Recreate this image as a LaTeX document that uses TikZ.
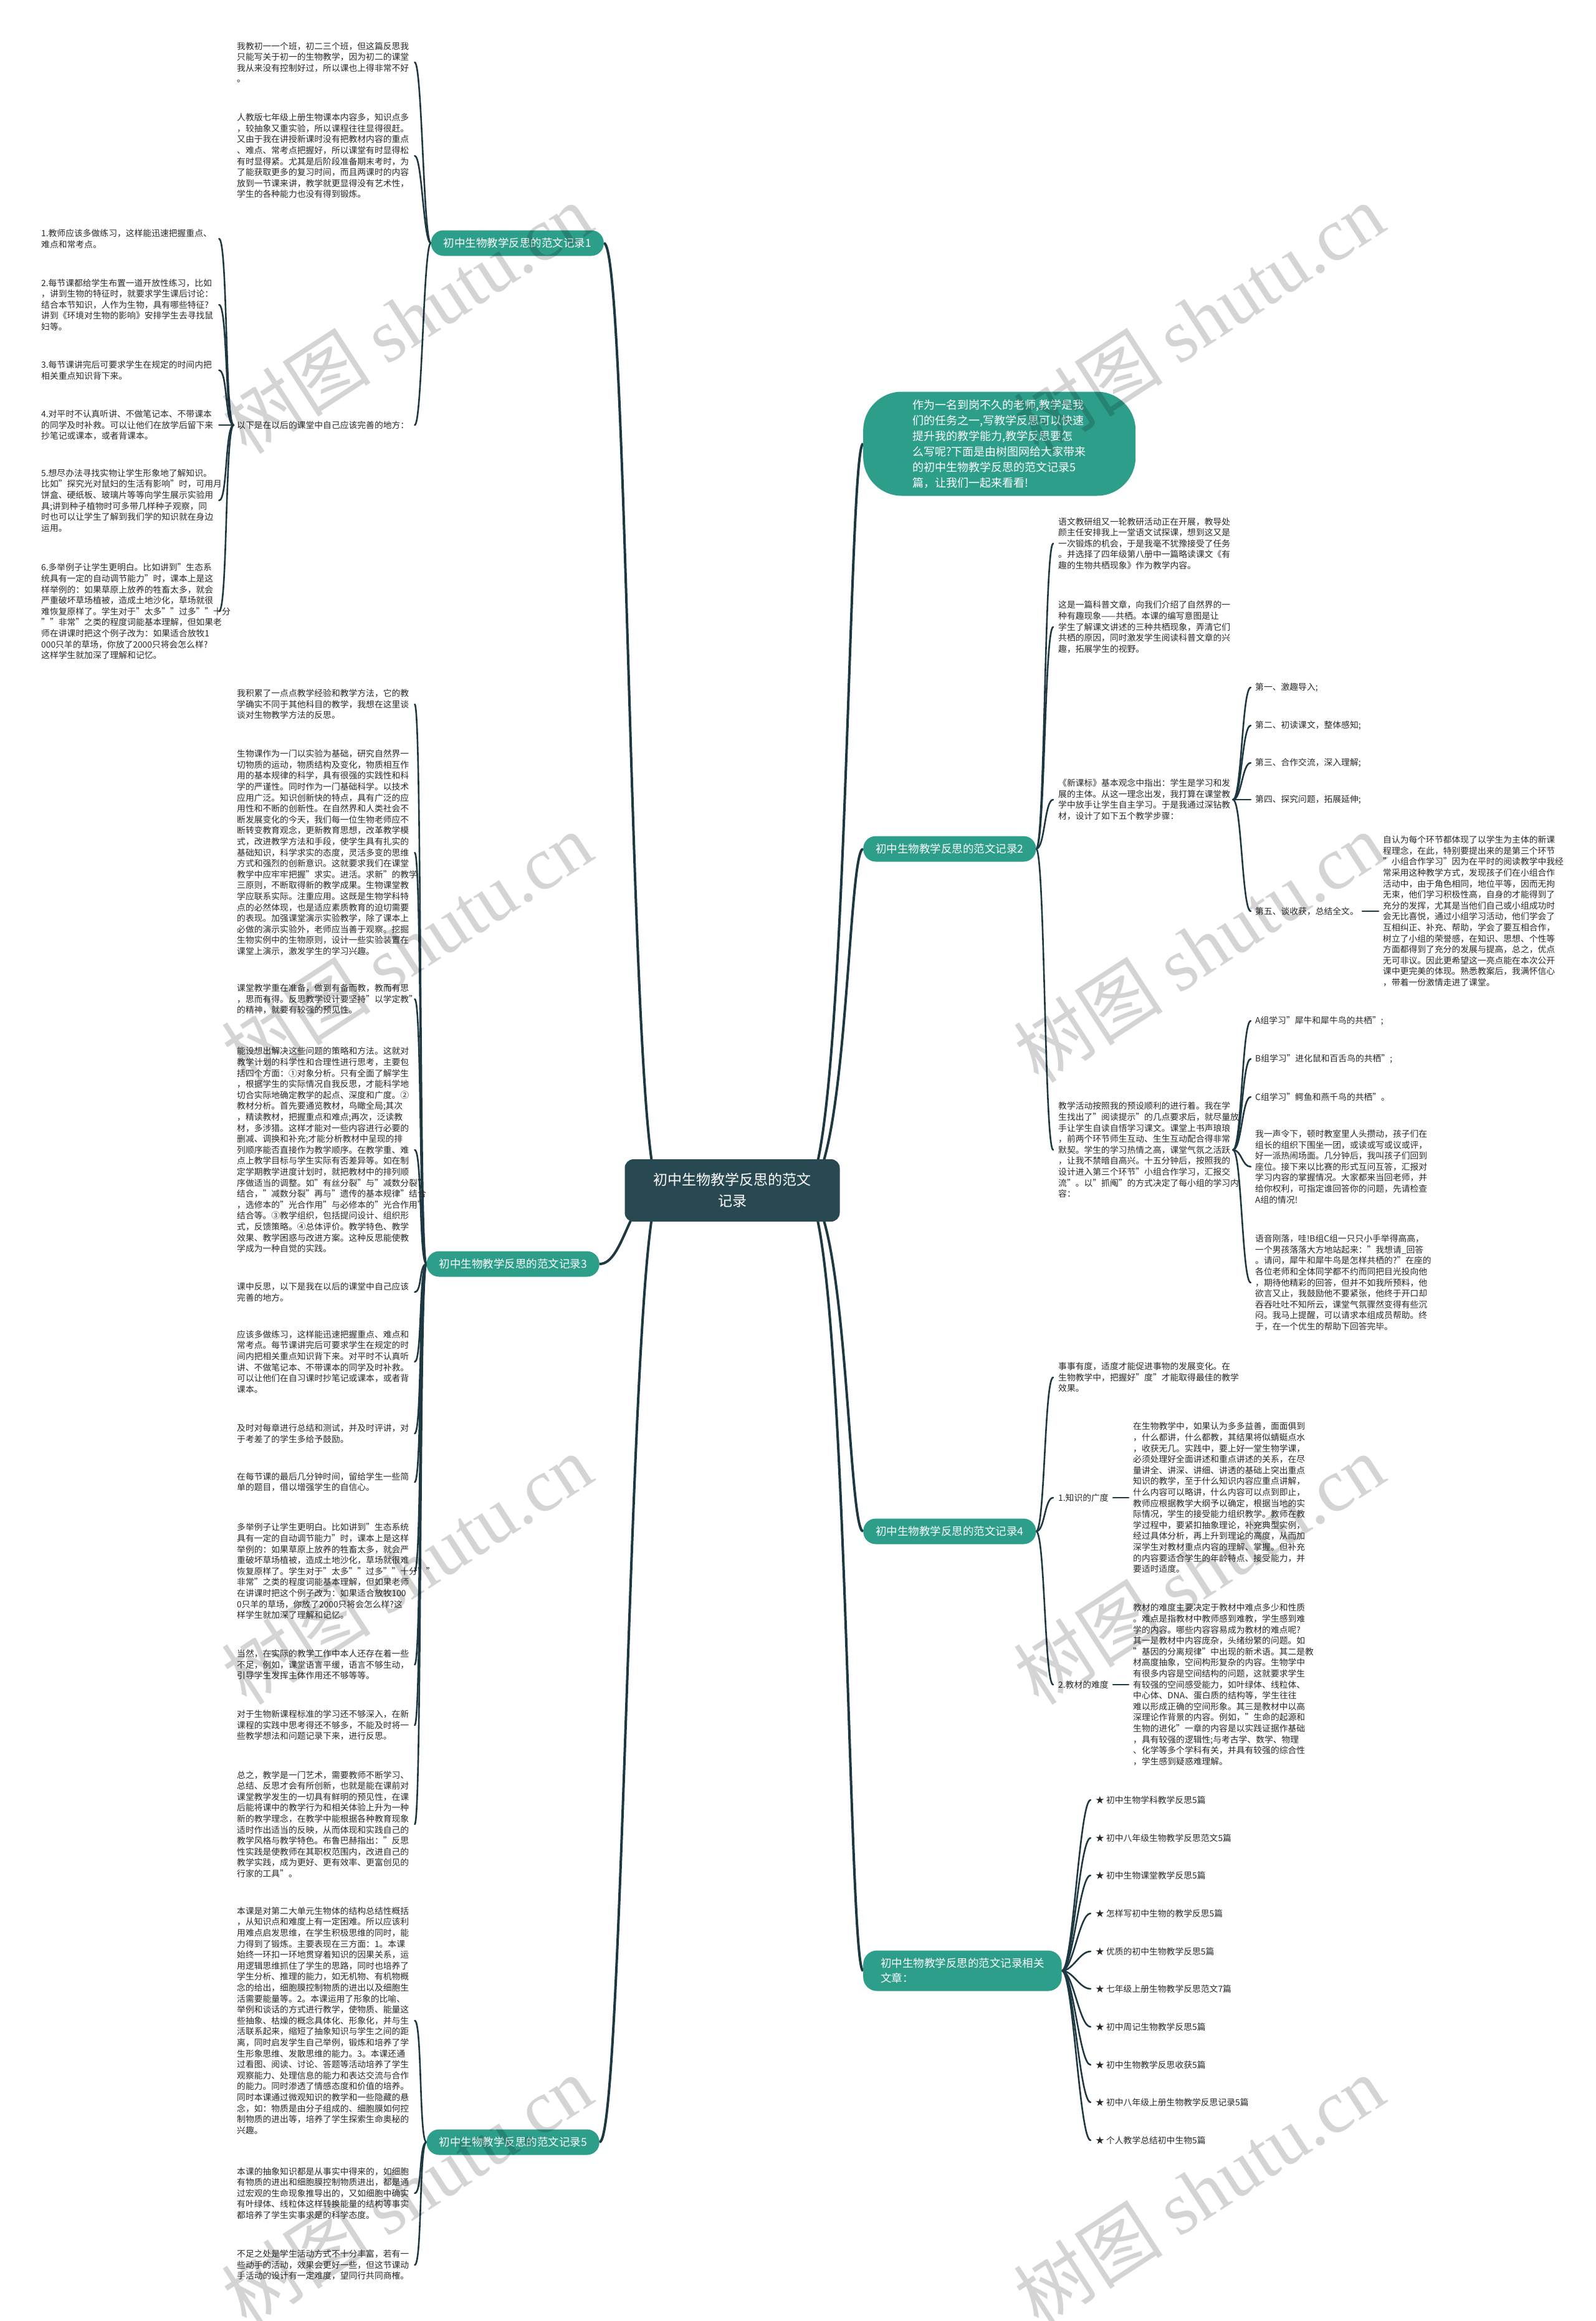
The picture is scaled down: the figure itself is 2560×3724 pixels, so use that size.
\documentclass[tikz,border=0pt]{standalone}
\usepackage{fontspec}
\setmainfont{Noto Sans CJK SC}
\newfontfamily\wmfont{Liberation Serif}
\usetikzlibrary{calc}
\definecolor{brTeal}{RGB}{44,158,138}
\definecolor{rootC}{RGB}{40,72,82}
\definecolor{lineC}{RGB}{30,56,66}
\definecolor{txtC}{RGB}{40,40,40}
\pgfdeclarelayer{back}
\pgfdeclarelayer{links}
\pgfsetlayers{back,links,main}
\tikzset{
  leaf/.style={anchor=west, inner sep=0pt, align=left, text width=276pt, text=txtC, font=\fontsize{13.8}{17.6}\selectfont},
  leafs/.style={anchor=west, inner sep=0pt, align=left, text=txtC, font=\fontsize{13.8}{17.6}\selectfont},
  branch/.style={fill=brTeal, text=white, rounded corners=20pt, inner xsep=20pt, inner ysep=0pt, minimum height=41pt, font=\fontsize{17.5}{24}\selectfont},
  rootbox/.style={fill=rootC, text=white, rounded corners=14pt, minimum width=345pt, minimum height=100pt, align=center, font=\fontsize{23}{34}\selectfont},
  rootline/.style={draw=lineC, line width=4pt},
  brline/.style={draw=lineC, line width=2.6pt, line cap=round},
  wm/.style={text=black, text opacity=0.17, rotate=33, font=\fontsize{120}{120}\selectfont},
}
\newcommand\mmLlink[2]{\draw[brline] (#1.west) .. controls +(-12,0) and +(12,0) .. ($(#2.east)+(9,0)$);}
\newcommand\mmRlink[2]{\draw[brline] (#1.east) .. controls +(14,0) and +(-14,0) .. ($(#2.west)+(-8,0)$);}
\newcommand\mmSubR[2]{\draw[brline] ($(#1.east)+(4,0)$) .. controls +(14,0) and +(-14,0) .. ($(#2.west)+(-7,0)$);}
\newcommand\mmSubL[2]{\draw[brline] ($(#1.west)+(-5,0)$) .. controls +(-14,0) and +(14,0) .. ($(#2.east)+(9,0)$);}
\begin{document}
\begin{tikzpicture}[x=1pt,y=-1pt]
\begin{pgfonlayer}{back}
\fill[white] (0,0) rectangle (2560,3724);
\end{pgfonlayer}
\useasboundingbox (0,0) rectangle (2560,3724);

% root
\node[rootbox] (root) at (1175,1910) {初中生物教学反思的范文\\记录};

% branches
\node[branch, anchor=east] (R1) at (969,390) {初中生物教学反思的范文记录1};
\node[branch, anchor=east] (R3) at (962,2028) {初中生物教学反思的范文记录3};
\node[branch, anchor=east] (R5) at (962,3437) {初中生物教学反思的范文记录5};
\node[fill=brTeal, text=white, rounded corners=62pt, minimum width=437pt, minimum height=167pt, align=left, anchor=west, inner sep=0pt, font=\fontsize{18}{25}\selectfont] (intro) at (1385,712) {作为一名到岗不久的老师,教学是我\\们的任务之一,写教学反思可以快速\\提升我的教学能力,教学反思要怎\\么写呢?下面是由树图网给大家带来\\的初中生物教学反思的范文记录5\\篇，让我们一起来看看!};
\node[branch, anchor=west] (R2) at (1385,1362) {初中生物教学反思的范文记录2};
\node[branch, anchor=west] (R4) at (1385,2457) {初中生物教学反思的范文记录4};
\node[branch, anchor=west, align=left, inner xsep=28pt, minimum height=65pt, rounded corners=22pt] (R6) at (1385,3162) {初中生物教学反思的范文记录相关\\文章：};

% record 1
\node[leaf] (L1a) at (380,100) {我教初一一个班，初二三个班，但这篇反思我\\只能写关于初一的生物教学，因为初二的课堂\\我从来没有控制好过，所以课也上得非常不好\\。};
\node[leaf] (L1b) at (380,250) {人教版七年级上册生物课本内容多，知识点多\\，较抽象又重实验，所以课程往往显得很赶。\\又由于我在讲授新课时没有把教材内容的重点\\、难点、常考点把握好，所以课堂有时显得松\\有时显得紧。尤其是后阶段准备期末考时，为\\了能获取更多的复习时间，而且两课时的内容\\放到一节课来讲，教学就更显得没有艺术性，\\学生的各种能力也没有得到锻炼。};
\node[leaf] (L1c) at (380,682) {以下是在以后的课堂中自己应该完善的地方：};
\node[leaf] (P1) at (66,383) {1.教师应该多做练习，这样能迅速把握重点、\\难点和常考点。};
\node[leaf] (P2) at (66,489) {2.每节课都给学生布置一道开放性练习，比如\\，讲到生物的特征时，就要求学生课后讨论：\\结合本节知识，人作为生物，具有哪些特征?\\讲到《环境对生物的影响》安排学生去寻找鼠\\妇等。};
\node[leaf] (P3) at (66,594) {3.每节课讲完后可要求学生在规定的时间内把\\相关重点知识背下来。};
\node[leaf] (P4) at (66,682) {4.对平时不认真听讲、不做笔记本、不带课本\\的同学及时补救。可以让他们在放学后留下来\\抄笔记或课本，或者背课本。};
\node[leaf] (P5) at (66,803) {5.想尽办法寻找实物让学生形象地了解知识。\\比如"探究光对鼠妇的生活有影响"时，可用月\\饼盒、硬纸板、玻璃片等等向学生展示实验用\\具;讲到种子植物时可多带几样种子观察，同\\时也可以让学生了解到我们学的知识就在身边\\运用。};
\node[leaf] (P6) at (66,981) {6.多举例子让学生更明白。比如讲到"生态系\\统具有一定的自动调节能力"时，课本上是这\\样举例的：如果草原上放养的牲畜太多，就会\\严重破坏草场植被，造成土地沙化，草场就很\\难恢复原样了。学生对于"太多""过多""十分\\""非常"之类的程度词能基本理解，但如果老\\师在讲课时把这个例子改为：如果适合放牧1\\000只羊的草场，你放了2000只将会怎么样?\\这样学生就加深了理解和记忆。};

% record 3
\node[leaf] (Q1) at (380,1130) {我积累了一点点教学经验和教学方法，它的教\\学确实不同于其他科目的教学，我想在这里谈\\谈对生物教学方法的反思。};
\node[leaf] (Q2) at (380,1368) {生物课作为一门以实验为基础，研究自然界一\\切物质的运动，物质结构及变化，物质相互作\\用的基本规律的科学，具有很强的实践性和科\\学的严谨性。同时作为一门基础科学。以技术\\应用广泛。知识创新快的特点，具有广泛的应\\用性和不断的创新性。在自然界和人类社会不\\断发展变化的今天，我们每一位生物老师应不\\断转变教育观念，更新教育思想，改革教学模\\式，改进教学方法和手段，使学生具有扎实的\\基础知识，科学求实的态度，灵活多变的思维\\方式和强烈的创新意识。这就要求我们在课堂\\教学中应牢牢把握"求实。进活。求新"的教学\\三原则，不断取得新的教学成果。生物课堂教\\学应联系实际。注重应用。这既是生物学科特\\点的必然体现，也是适应素质教育的迫切需要\\的表现。加强课堂演示实验教学，除了课本上\\必做的演示实验外，老师应当善于观察。挖掘\\生物实例中的生物原则，设计一些实验装置在\\课堂上演示，激发学生的学习兴趣。};
\node[leaf] (Q3) at (380,1603) {课堂教学重在准备，做到有备而教，教而有思\\，思而有得。反思教学设计要坚持"以学定教"\\的精神，就要有较强的预见性。};
\node[leaf] (Q4) at (380,1845) {能设想出解决这些问题的策略和方法。这就对\\教学计划的科学性和合理性进行思考，主要包\\括四个方面：①对象分析。只有全面了解学生\\，根据学生的实际情况自我反思，才能科学地\\切合实际地确定教学的起点、深度和广度。②\\教材分析。首先要通览教材，鸟瞰全局;其次\\，精读教材，把握重点和难点;再次，泛读教\\材，多涉猎。这样才能对一些内容进行必要的\\删减、调换和补充;才能分析教材中呈现的排\\列顺序能否直接作为教学顺序。在教学重、难\\点上教学目标与学生实际有否差异等。如在制\\定学期教学进度计划时，就把教材中的排列顺\\序做适当的调整。如"有丝分裂"与"减数分裂"\\结合，"减数分裂"再与"遗传的基本规律"结合\\，选修本的"光合作用"与必修本的"光合作用"\\结合等。③教学组织，包括提问设计、组织形\\式，反馈策略。④总体评价。教学特色、教学\\效果、教学困惑与改进方案。这种反思能使教\\学成为一种自觉的实践。};
\node[leaf] (Q5) at (380,2073) {课中反思，以下是我在以后的课堂中自己应该\\完善的地方。};
\node[leaf] (Q6) at (380,2185) {应该多做练习，这样能迅速把握重点、难点和\\常考点。每节课讲完后可要求学生在规定的时\\间内把相关重点知识背下来。对平时不认真听\\讲、不做笔记本、不带课本的同学及时补救。\\可以让他们在自习课时抄笔记或课本，或者背\\课本。};
\node[leaf] (Q7) at (380,2300) {及时对每章进行总结和测试，并及时评讲，对\\于考差了的学生多给予鼓励。};
\node[leaf] (Q8) at (380,2378) {在每节课的最后几分钟时间，留给学生一些简\\单的题目，借以增强学生的自信心。};
\node[leaf] (Q9) at (380,2521) {多举例子让学生更明白。比如讲到"生态系统\\具有一定的自动调节能力"时，课本上是这样\\举例的：如果草原上放养的牲畜太多，就会严\\重破坏草场植被，造成土地沙化，草场就很难\\恢复原样了。学生对于"太多""过多""十分""\\非常"之类的程度词能基本理解，但如果老师\\在讲课时把这个例子改为：如果适合放牧100\\0只羊的草场，你放了2000只将会怎么样?这\\样学生就加深了理解和记忆。};
\node[leaf] (Q10) at (380,2671) {当然，在实际的教学工作中本人还存在着一些\\不足，例如，课堂语言平缓，语言不够生动，\\引导学生发挥主体作用还不够等等。};
\node[leaf] (Q11) at (380,2768) {对于生物新课程标准的学习还不够深入，在新\\课程的实践中思考得还不够多，不能及时将一\\些教学想法和问题记录下来，进行反思。};
\node[leaf] (Q12) at (380,2927) {总之，教学是一门艺术，需要教师不断学习、\\总结、反思才会有所创新，也就是能在课前对\\课堂教学发生的一切具有鲜明的预见性，在课\\后能将课中的教学行为和相关体验上升为一种\\新的教学理念，在教学中能根据各种教育现象\\适时作出适当的反映，从而体现和实践自己的\\教学风格与教学特色。布鲁巴赫指出："反思\\性实践是使教师在其职权范围内，改进自己的\\教学实践，成为更好、更有效率、更富创见的\\行家的工具"。};

% record 5
\node[leaf] (F1) at (380,3242) {本课是对第二大单元生物体的结构总结性概括\\，从知识点和难度上有一定困难。所以应该利\\用难点启发思维，在学生积极思维的同时，能\\力得到了锻炼。主要表现在三方面：1。本课\\始终一环扣一环地贯穿着知识的因果关系，运\\用逻辑思维抓住了学生的思路，同时也培养了\\学生分析、推理的能力，如无机物、有机物概\\念的给出，细胞膜控制物质的进出以及细胞生\\活需要能量等。2。本课运用了形象的比喻、\\举例和谈话的方式进行教学，使物质、能量这\\些抽象、枯燥的概念具体化、形象化，并与生\\活联系起来，缩短了抽象知识与学生之间的距\\离，同时启发学生自己举例，锻炼和培养了学\\生形象思维、发散思维的能力。3。本课还通\\过看图、阅读、讨论、答题等活动培养了学生\\观察能力、处理信息的能力和表达交流与合作\\的能力。同时渗透了情感态度和价值的培养。\\同时本课通过微观知识的教学和一些隐藏的悬\\念，如：物质是由分子组成的、细胞膜如何控\\制物质的进出等，培养了学生探索生命奥秘的\\兴趣。};
\node[leaf] (F2) at (380,3519) {本课的抽象知识都是从事实中得来的，如细胞\\有物质的进出和细胞膜控制物质进出，都是通\\过宏观的生命现象推导出的，又如细胞中确实\\有叶绿体、线粒体这样转换能量的结构等事实\\都培养了学生实事求是的科学态度。};
\node[leaf] (F3) at (380,3634) {不足之处是学生活动方式不十分丰富，若有一\\些动手的活动，效果会更好一些，但这节课动\\手活动的设计有一定难度，望同行共同商榷。};

% record 2
\node[leaf] (Ra) at (1698,872) {语文教研组又一轮教研活动正在开展，教导处\\颜主任安排我上一堂语文试探课，想到这又是\\一次锻炼的机会，于是我毫不犹豫接受了任务\\。并选择了四年级第八册中一篇略读课文《有\\趣的生物共栖现象》作为教学内容。};
\node[leaf] (Rb) at (1698,1006) {这是一篇科普文章，向我们介绍了自然界的一\\种有趣现象——共栖。本课的编写意图是让\\学生了解课文讲述的三种共栖现象，弄清它们\\共栖的原因，同时激发学生阅读科普文章的兴\\趣，拓展学生的视野。};
\node[leaf] (Rc) at (1698,1283) {《新课标》基本观念中指出：学生是学习和发\\展的主体。从这一理念出发，我打算在课堂教\\学中放手让学生自主学习。于是我通过深钻教\\材，设计了如下五个教学步骤：};
\node[leafs] (T1) at (2014,1103) {第一、激趣导入;};
\node[leafs] (T2) at (2014,1164) {第二、初读课文，整体感知;};
\node[leafs] (T3) at (2014,1224) {第三、合作交流，深入理解;};
\node[leafs] (T4) at (2014,1283) {第四、探究问题，拓展延伸;};
\node[leafs] (T5) at (2014,1462) {第五、谈收获，总结全文。};
\node[leaf] (T5c) at (2219,1462) {自认为每个环节都体现了以学生为主体的新课\\程理念，在此，特别要提出来的是第三个环节\\"小组合作学习"因为在平时的阅读教学中我经\\常采用这种教学方式，发现孩子们在小组合作\\活动中，由于角色相同，地位平等，因而无拘\\无束，他们学习积极性高，自身的才能得到了\\充分的发挥，尤其是当他们自己或小组成功时\\会无比喜悦，通过小组学习活动，他们学会了\\互相纠正、补充、帮助，学会了要互相合作，\\树立了小组的荣誉感，在知识、思想、个性等\\方面都得到了充分的发展与提高，总之，优点\\无可非议。因此更希望这一亮点能在本次公开\\课中更完美的体现。熟悉教案后，我满怀信心\\，带着一份激情走进了课堂。};
\node[leaf] (Rd) at (1698,1845) {教学活动按照我的预设顺利的进行着。我在学\\生找出了"阅读提示"的几点要求后，就尽量放\\手让学生自读自悟学习课文。课堂上书声琅琅\\，前两个环节师生互动、生生互动配合得非常\\默契。学生的学习热情之高，课堂气氛之活跃\\，让我不禁暗自高兴。十五分钟后，按照我的\\设计进入第三个环节"小组合作学习，汇报交\\流"。以"抓阄"的方式决定了每小组的学习内\\容：};
\node[leafs] (U1) at (2014,1638) {A组学习"犀牛和犀牛鸟的共栖";};
\node[leafs] (U2) at (2014,1699) {B组学习"进化鼠和百舌鸟的共栖";};
\node[leafs] (U3) at (2014,1760) {C组学习"鳄鱼和燕千鸟的共栖"。};
\node[leaf] (U4) at (2014,1872) {我一声令下，顿时教室里人头攒动，孩子们在\\组长的组织下围坐一团，或读或写或议或评，\\好一派热闹场面。几分钟后，我叫孩子们回到\\座位。接下来以比赛的形式互问互答，汇报对\\学习内容的掌握情况。大家都来当回老师，并\\给你权利，可指定谁回答你的问题，先请检查\\A组的情况!};
\node[leaf] (U5) at (2014,2058) {语音刚落，哇!B组C组一只只小手举得高高，\\一个男孩落落大方地站起来："我想请\_回答\\。请问，犀牛和犀牛鸟是怎样共栖的?"在座的\\各位老师和全体同学都不约而同把目光投向他\\，期待他精彩的回答，但并不如我所预料，他\\欲言又止，我鼓励他不要紧张，他终于开口却\\吞吞吐吐不知所云，课堂气氛骤然变得有些沉\\闷。我马上提醒，可以请求本组成员帮助。终\\于，在一个优生的帮助下回答完毕。};

% record 4
\node[leaf] (V1) at (1698,2210) {事事有度，适度才能促进事物的发展变化。在\\生物教学中，把握好"度"才能取得最佳的教学\\效果。};
\node[leafs] (V2) at (1698,2403) {1.知识的广度};
\node[leaf] (V2c) at (1818,2403) {在生物教学中，如果认为多多益善，面面俱到\\，什么都讲，什么都教，其结果将似蜻蜓点水\\，收获无几。实践中，要上好一堂生物学课，\\必须处理好全面讲述和重点讲述的关系，在尽\\量讲全、讲深、讲细、讲透的基础上突出重点\\知识的教学，至于什么知识内容应重点讲解，\\什么内容可以略讲，什么内容可以点到即止，\\教师应根据教学大纲予以确定，根据当地的实\\际情况，学生的接受能力组织教学。教师在教\\学过程中，要紧扣抽象理论，补充典型实例，\\经过具体分析，再上升到理论的高度，从而加\\深学生对教材重点内容的理解、掌握。但补充\\的内容要适合学生的年龄特点、接受能力，并\\要适时适度。};
\node[leafs] (V3) at (1698,2703) {2.教材的难度};
\node[leaf] (V3c) at (1818,2703) {教材的难度主要决定于教材中难点多少和性质\\。难点是指教材中教师感到难教，学生感到难\\学的内容。哪些内容容易成为教材的难点呢?\\其一是教材中内容庞杂，头绪纷繁的问题。如\\"基因的分离规律"中出现的新术语。其二是教\\材高度抽象，空间构形复杂的内容。生物学中\\有很多内容是空间结构的问题，这就要求学生\\有较强的空间感受能力，如叶绿体、线粒体、\\中心体、DNA、蛋白质的结构等，学生往往\\难以形成正确的空间形象。其三是教材中以高\\深理论作背景的内容。例如，"生命的起源和\\生物的进化"一章的内容是以实践证据作基础\\，具有较强的逻辑性;与考古学、数学、物理\\、化学等多个学科有关，并具有较强的综合性\\，学生感到疑惑难理解。};

% related
\node[leafs] (W1) at (1758,2888) {★ 初中生物学科教学反思5篇};
\node[leafs] (W2) at (1758,2949) {★ 初中八年级生物教学反思范文5篇};
\node[leafs] (W3) at (1758,3009) {★ 初中生物课堂教学反思5篇};
\node[leafs] (W4) at (1758,3070) {★ 怎样写初中生物的教学反思5篇};
\node[leafs] (W5) at (1758,3131) {★ 优质的初中生物教学反思5篇};
\node[leafs] (W6) at (1758,3191) {★ 七年级上册生物教学反思范文7篇};
\node[leafs] (W7) at (1758,3252) {★ 初中周记生物教学反思5篇};
\node[leafs] (W8) at (1758,3313) {★ 初中生物教学反思收获5篇};
\node[leafs] (W9) at (1758,3373) {★ 初中八年级上册生物教学反思记录5篇};
\node[leafs] (W10) at (1758,3434) {★ 个人教学总结初中生物5篇};

\begin{pgfonlayer}{links}
% root links
\foreach \b in {R1,R3,R5}
  \draw[rootline] ($(root.center)+(-115,0)$) .. controls +(-50,0) and +(40,0) .. (\b.east);
\foreach \b in {intro,R2,R4,R6}
  \draw[rootline] ($(root.center)+(115,0)$) .. controls +(70,0) and +(-25,0) .. (\b.west);
% record 1
\foreach \l in {L1a,L1b,L1c} {\mmLlink{R1}{\l}}
\foreach \l in {P1,P2,P3,P4,P5,P6} {\mmSubL{L1c}{\l}}
% record 3
\foreach \l in {Q1,Q2,Q3,Q4,Q5,Q6,Q7,Q8,Q9,Q10,Q11,Q12} {\mmLlink{R3}{\l}}
% record 5
\foreach \l in {F1,F2,F3} {\mmLlink{R5}{\l}}
% record 2
\foreach \l in {Ra,Rb,Rc,Rd} {\mmRlink{R2}{\l}}
\foreach \l in {T1,T2,T3,T4,T5} {\mmSubR{Rc}{\l}}
\draw[brline] ($(T5.east)+(6,0)$) -- ($(T5c.west)+(-7,0)$);
\foreach \l in {U1,U2,U3,U4,U5} {\mmSubR{Rd}{\l}}
% record 4
\foreach \l in {V1,V2,V3} {\mmRlink{R4}{\l}}
\draw[brline] ($(V2.east)+(7,0)$) -- ($(V2c.west)+(-7,0)$);
\draw[brline] ($(V3.east)+(7,0)$) -- ($(V3c.west)+(-7,0)$);
% related
\foreach \l in {W1,W2,W3,W4,W5,W6,W7,W8,W9,W10}
  \draw[brline] (R6.east) .. controls +(18,0) and +(-18,0) .. ($(\l.west)+(-8,0)$);
\end{pgfonlayer}

% watermarks
\foreach \wx/\wy [count=\i] in {653/511,1924/511,653/1520,1924/1520,653/2518,1924/2518,653/3515,1924/3515}
  \node[wm] (wm\i) at (\wx,\wy) {树图 {\wmfont shutu.cn}};
\end{tikzpicture}
\end{document}
